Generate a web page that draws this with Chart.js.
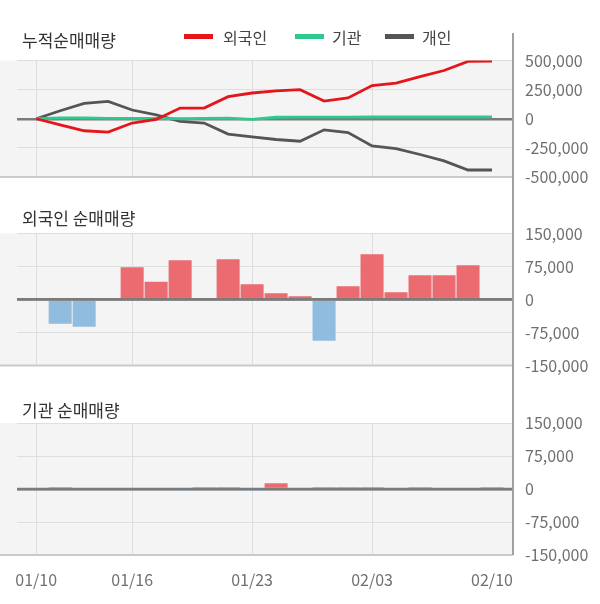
<!DOCTYPE html>
<html><head><meta charset="utf-8">
<script src="https://cdn.jsdelivr.net/npm/chart.js@4"></script>
<style>
body{margin:0;background:#fff;width:600px;height:604px;overflow:hidden;font-family:"Noto Sans CJK KR","Noto Sans",sans-serif;}
#wrap{position:relative;width:600px;height:604px;}
canvas{position:absolute;left:0;}
.title{position:absolute;left:22px;font-size:17px;line-height:20px;color:#333;white-space:nowrap;}
.leg{position:absolute;top:27px;font-size:16px;line-height:20px;color:#444;white-space:nowrap;}
.sw{position:absolute;top:34px;height:5px;width:29px;}
</style></head>
<body><div id="wrap">
<canvas id="c1" width="600" height="195" style="top:0"></canvas>
<canvas id="c2" width="600" height="190" style="top:195px"></canvas>
<canvas id="c3" width="600" height="219" style="top:385px"></canvas>
<div class="title" style="top:30px">누적순매매량</div>
<div class="title" style="top:208px">외국인 순매매량</div>
<div class="title" style="top:400px">기관 순매매량</div>
<div class="sw" style="left:184px;background:#e4161c"></div><div class="leg" style="left:223px">외국인</div>
<div class="sw" style="left:295px;background:#2ec98c"></div><div class="leg" style="left:332px">기관</div>
<div class="sw" style="left:385px;background:#555555"></div><div class="leg" style="left:422px">개인</div>
</div>
<script>
const dates = ['01/10','01/13','01/14','01/15','01/16','01/17','01/20','01/21','01/22','01/23','01/28','01/29','01/30','01/31','02/03','02/04','02/05','02/06','02/07','02/10'];
const seriesNames = ['외국인','기관','개인'];
const foreignCum = [0,-52000,-103000,-115000,-37000,-6000,92000,92000,190000,221000,240000,250000,152000,178000,285000,305000,362000,414000,492000,494000];
const instCum = [0,8000,8000,3000,3000,3000,0,3000,5000,-5000,13000,14000,14000,14000,15000,15000,15000,15000,15000,16000];
const indivCum = [0,69000,132000,149000,75000,34000,-23000,-37000,-132000,-155000,-178000,-193000,-95000,-118000,-233000,-256000,-307000,-362000,-440000,-440000];
const foreignNet = [0,-55300,-62100,0,73500,40200,89400,3000,91700,34800,14400,7600,-93900,30300,103000,16700,55300,55300,78000,3000];
const instNet = [0,4000,0,0,0,0,-4000,4000,4000,-4000,13000,0,4000,4000,4000,0,4000,0,0,4000];
const labelIdx = [0,4,9,14,19];

const FONT = '"Noto Sans CJK KR","Noto Sans",sans-serif';
const GRID='#dedede', ZERO='#7b7b7b', BG='#f4f4f4', AXIS='#a0a0a0', BORDER='#cacaca';
const POS='#eb6b70', NEG='#90bce0', TICK='#707070';
Chart.defaults.font.family = FONT;

function pts(arr){ return arr.map((v,i)=>({x:i,y:v})); }

const panelPlugin = {
  id:'panel',
  beforeDraw(chart, args, opts){
    const {ctx, chartArea:a} = chart;
    ctx.save(); ctx.fillStyle=BG; ctx.fillRect(0,a.top,a.right,a.bottom-a.top); ctx.restore();
  },
  afterDatasetsDraw(chart, args, opts){
    const {ctx, chartArea:a} = chart;
    const y0 = chart.scales.y.getPixelForValue(0);
    ctx.save();
    if(opts.zeroOnTop){ ctx.strokeStyle=ZERO; ctx.lineWidth=2.5; ctx.beginPath(); ctx.moveTo(a.left,y0); ctx.lineTo(a.right,y0); ctx.stroke(); }
    ctx.strokeStyle=BORDER; ctx.lineWidth=2; ctx.beginPath(); ctx.moveTo(0,a.bottom); ctx.lineTo(a.right,a.bottom); ctx.stroke();
    ctx.strokeStyle=AXIS; ctx.lineWidth=2; ctx.beginPath(); ctx.moveTo(a.right, opts.axisTop); ctx.lineTo(a.right, opts.axisBottom); ctx.stroke();
    ctx.restore();
  }
};

function zeroPad(s){ s.paddingTop = 0; s.paddingBottom = 0; s.paddingLeft = 0; s.paddingRight = 0; }

function xScale(showLabels){
  return {
    type:'linear', min:-0.8, max:19.875, offset:false,
    afterBuildTicks: s => { s.ticks = labelIdx.map(v=>({value:v})); },
    grid:{ offset:false, color: c => (c.tick && c.tick.value===19) ? 'rgba(0,0,0,0)' : GRID, lineWidth:1, drawTicks:false },
    border:{display:false},
    ticks:{ display:showLabels, padding:15, color:TICK, font:{size:16}, autoSkip:false, maxRotation:0,
      callback: v => (dates[v] !== undefined ? dates[v] : '') },
    afterFit: s => { s.height = showLabels ? 49 : 0; zeroPad(s); }
  };
}
function yScale(lim, step){
  return {
    position:'right', min:-lim, max:lim,
    ticks:{ stepSize:step, padding:12, color:TICK, font:{size:16}, callback: v => Number(v).toLocaleString('en-US') },
    grid:{ color: c => c.tick.value===0 ? ZERO : (c.tick.value===-lim ? 'rgba(0,0,0,0)' : GRID),
           lineWidth: c => c.tick.value===0 ? 2.5 : 1, drawTicks:false },
    border:{display:false},
    afterFit: s => { s.width = 87; zeroPad(s); }
  };
}
function baseOptions(pad, xs, ys, plug){
  return {
    responsive:false, animation:false, devicePixelRatio:1,
    layout:{ padding:pad, autoPadding:false },
    plugins:{ legend:{display:false}, tooltip:{enabled:false}, panel:plug },
    scales:{ x:xs, y:ys }
  };
}

new Chart(document.getElementById('c1'), {
  type:'line',
  data:{ datasets:[
    { label:seriesNames[0], data:pts(foreignCum), borderColor:'#e4161c', borderWidth:2.8, pointRadius:0, tension:0 },
    { label:seriesNames[1], data:pts(instCum), borderColor:'#2ec98c', borderWidth:2.8, pointRadius:0, tension:0 },
    { label:seriesNames[2], data:pts(indivCum), borderColor:'#555555', borderWidth:2.8, pointRadius:0, tension:0 }
  ]},
  options: baseOptions({top:60.5,bottom:18,left:17,right:0}, xScale(false), yScale(500000,250000), {zeroOnTop:false, axisTop:33, axisBottom:195}),
  plugins:[panelPlugin]
});

function barChart(id, values, pad, showX, axisTop, axisBottom){
  new Chart(document.getElementById(id), {
    type:'bar',
    data:{ datasets:[{ data:pts(values), backgroundColor: values.map(v => v < 0 ? NEG : POS), borderWidth:0,
      barPercentage:0.96, categoryPercentage:1 }]},
    options: baseOptions(pad, xScale(showX), yScale(150000,75000), {zeroOnTop:true, axisTop, axisBottom}),
    plugins:[panelPlugin]
  });
}
barChart('c2', foreignNet, {top:38.5,bottom:19.5,left:17,right:0}, false, 0, 190);
barChart('c3', instNet, {top:38,bottom:0,left:17,right:0}, true, 0, 170);
</script>
</body></html>
